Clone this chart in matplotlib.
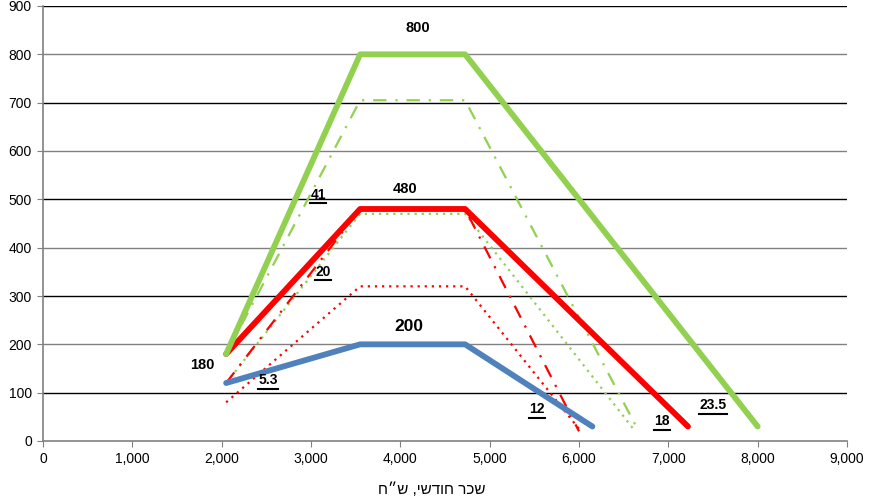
import matplotlib.pyplot as plt
from matplotlib.lines import Line2D
from matplotlib.ticker import FuncFormatter

plt.rcParams['font.family'] = ['Liberation Sans', 'DejaVu Sans']

# wage (x) / value (y) break points of each scenario
green_x = [2050, 3550, 4725, 8000]
green_y = [180, 800, 800, 30]
red_x = [2050, 3550, 4725, 7220]
red_y = [180, 480, 480, 30]
blue_x = [2050, 3550, 4725, 6150]
blue_y = [120, 200, 200, 30]
green_dd_x = [2050, 3550, 4725, 6640]
green_dd_y = [180, 705, 705, 30]
green_dot_x = [2050, 3550, 4725, 6630]
green_dot_y = [120, 470, 470, 20]
red_dd_x = [2050, 3550, 4725, 6000]
red_dd_y = [120, 480, 480, 20]
red_dot_x = [2050, 3550, 4725, 6000]
red_dot_y = [80, 320, 320, 25]

# text labels: (text, x, y, size, underlined)
labels = [
    ('800', 4200, 855, 10.5, False),
    ('480', 4050, 521, 10.5, False),
    ('200', 4100, 236, 12.5, False),
    ('180', 1780, 157, 10.5, False),
    ('5.3', 2520, 126, 10, True),
    ('20', 3135, 350, 10, True),
    ('41', 3080, 509, 10, True),
    ('12', 5530, 66, 10, True),
    ('18', 6930, 41, 10, True),
    ('23.5', 7500, 74, 10, True),
]

xlabel = 'שכר חודשי, ש״ח'

GREEN = '#92D050'
RED = '#FF0000'
BLUE = '#4F81BD'

fig = plt.figure(figsize=(8.69, 5.03), dpi=100)
ax = fig.add_axes([43/869, 1-441/503, (847-43)/869, (441-6)/503])

for v in range(100, 1000, 100):
    ax.axhline(v, color='black' if v % 200 else '#808080', lw=1.0, zorder=0)

ax.plot(red_dot_x, red_dot_y, color=RED, lw=1.6, ls=(0, (1, 2.2)), zorder=2)
ax.plot(green_dot_x, green_dot_y, color=GREEN, lw=1.6, ls=(0, (1, 2.2)), zorder=2)
ax.plot(red_dd_x, red_dd_y, color=RED, lw=1.6, ls=(0, (6, 4, 1, 4)), zorder=2)
ax.plot(green_dd_x, green_dd_y, color=GREEN, lw=1.6, ls=(0, (6, 4, 1, 4)), zorder=2)
ax.plot(blue_x, blue_y, color=BLUE, lw=4.2, solid_capstyle='round', zorder=3)
ax.plot(red_x, red_y, color=RED, lw=4.2, solid_capstyle='round', zorder=3)
ax.plot(green_x, green_y, color=GREEN, lw=4.2, solid_capstyle='round', zorder=3)

under = []
for txt, x, y, size, ul in labels:
    t = ax.text(x, y, txt, fontsize=size, fontweight='bold', ha='center', va='center', zorder=4)
    if ul:
        under.append(t)

ax.set_xlim(0, 9000)
ax.set_ylim(0, 900)
ax.set_xticks(range(0, 9001, 1000))
ax.set_yticks(range(0, 901, 100))
ax.xaxis.set_major_formatter(FuncFormatter(lambda v, p: f'{int(v):,}'))
ax.tick_params(direction='out', length=4, color='#808080', labelsize=10, pad=4)

for s in ['top', 'right']:
    ax.spines[s].set_visible(False)
for s in ['left', 'bottom']:
    ax.spines[s].set_color('#808080')
    ax.spines[s].set_linewidth(1.2)

# no bidi in matplotlib: reverse the Hebrew so it reads right-to-left
ax.set_xlabel(xlabel[::-1], fontsize=11)
ax.xaxis.set_label_coords(0.484, -0.113)
ax.xaxis.label.set_va('center')

# underline the slope labels
fig.canvas.draw()
r = fig.canvas.get_renderer()
for t in under:
    bb = t.get_window_extent(r)
    yy = bb.y0 - 1.5
    fig.add_artist(Line2D([bb.x0, bb.x1], [yy, yy], transform=None, color='black', lw=1.5))

fig.savefig('out.png', dpi=100)
